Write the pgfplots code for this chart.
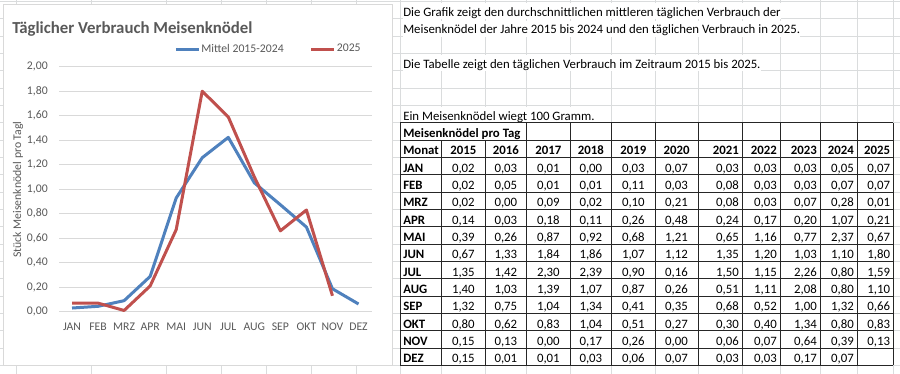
\documentclass[border=0pt]{standalone}
\usepackage{fontspec}
\setmainfont{Carlito}
\usepackage{pgfplots}
\pgfplotsset{compat=1.18}
\definecolor{cblue}{HTML}{4F81BD}
\definecolor{cred}{HTML}{C0504D}
\definecolor{txtgray}{HTML}{595959}
\definecolor{gridgray}{HTML}{D9D9D9}
\definecolor{sheetgrid}{HTML}{DADCDD}
\pgfkeys{/pgf/number format/.cd,fixed,fixed zerofill,precision=2,use comma,assume math mode=true}
\newcommand\bodyfont{\fontsize{9.6}{11.5}\selectfont}
\newcommand\axfont{\fontsize{8.8}{10.5}\selectfont}

\newcommand\trow[3]{%
 \node[anchor=base west, inner sep=0, font=\bodyfont\bfseries] at (403,{137.5+17.33*#1}) {#2};
 \foreach \v [count=\c] in {#3} {%
   \pgfmathsetmacro\xx{{463.35,505.85,548.35,590.85,633.35,676.5,739,777,817,854,890.3}[\c-1]}%
   \ifnum\c<7
     \node[anchor=base, inner sep=0, font=\bodyfont] at (\xx,{137.5+17.33*#1}) {\pgfmathprintnumber{\v}};
   \else
     \node[anchor=base east, inner sep=0, font=\bodyfont] at (\xx,{137.5+17.33*#1}) {\pgfmathprintnumber{\v}};
   \fi
 }%
}

\begin{document}
\begin{tikzpicture}
\begin{scope}[x=0.75pt,y=-0.75pt]
\path[use as bounding box, fill=white] (0,0) rectangle (900,374);
% spreadsheet grid
\foreach \gx in {16.7,91.7,166.7,221.7,266.7,311.7,356.7,400,441.7,485,526.7,570,611.7,655,698,742,780,820,857,893.3}
  \draw[sheetgrid, line width=0.75pt] (\gx,0) -- (\gx,374);
\foreach \k in {0,...,21}
  \draw[sheetgrid, line width=0.75pt] (0,{1.5+17.33*\k}) -- (900,{1.5+17.33*\k});
% chart area
\draw[gridgray, fill=white, line width=0.75pt] (3,5) rectangle (392,365);
\node[anchor=base west, inner sep=0, text=txtgray, font=\fontsize{12.6}{15}\selectfont\bfseries] at (12,33.3) {Täglicher Verbrauch Meisenknödel};
\node[rotate=90, text=txtgray, font=\axfont, inner sep=0] at (18,189.5) {Stück Meisenknödel pro Tagl};
\coordinate (plotSW) at (59,311.7);
% texts right
\tikzset{txt/.style={anchor=base west, fill=white, inner xsep=0pt, inner ysep=0pt, text height=9.7pt, text depth=2.4pt, font=\bodyfont}}
\node[txt] at (403,16.2) {Die Grafik zeigt den durchschnittlichen mittleren täglichen Verbrauch der};
\node[txt] at (403,33.5) {Meisenknödel der Jahre 2015 bis 2024 und den täglichen Verbrauch in 2025.};
\node[txt] at (403,68.2) {Die Tabelle zeigt den täglichen Verbrauch im Zeitraum 2015 bis 2025.};
\node[txt] at (403,120.2) {Ein Meisenknödel wiegt 100 Gramm.};
% table
\fill[white] (400,122.8) rectangle (893.3,365.4);
\foreach \k in {7,...,21}
  \draw[black!85, line width=0.75pt] (400,{1.5+17.33*\k}) -- (893.3,{1.5+17.33*\k});
\foreach \gx in {400,526.7,570,611.7,655,698,742,780,820,857,893.3}
  \draw[black!85, line width=0.75pt] (\gx,122.8) -- (\gx,365.4);
\foreach \gx in {441.7,485}
  \draw[black!85, line width=0.75pt] (\gx,140.1) -- (\gx,365.4);
\node[anchor=base west, inner sep=0, font=\bodyfont\bfseries] at (403,137.5) {Meisenknödel pro Tag};
\node[anchor=base west, inner sep=0, font=\bodyfont\bfseries] at (403,154.83) {Monat};
\foreach \yr [count=\c] in {2015,2016,2017,2018,2019,2020,2021,2022,2023,2024,2025} {%
   \pgfmathsetmacro\xx{{463.35,505.85,548.35,590.85,633.35,676.5,739,777,817,854,890.3}[\c-1]}%
   \ifnum\c<7
     \node[anchor=base, inner sep=0, font=\bodyfont\bfseries] at (\xx,154.83) {\yr};
   \else
     \node[anchor=base east, inner sep=0, font=\bodyfont\bfseries] at (\xx,154.83) {\yr};
   \fi
}
\trow{2}{JAN}{0.02,0.03,0.01,0.00,0.03,0.07,0.03,0.03,0.03,0.05,0.07}
\trow{3}{FEB}{0.02,0.05,0.01,0.01,0.11,0.03,0.08,0.03,0.03,0.07,0.07}
\trow{4}{MRZ}{0.02,0.00,0.09,0.02,0.10,0.21,0.08,0.03,0.07,0.28,0.01}
\trow{5}{APR}{0.14,0.03,0.18,0.11,0.26,0.48,0.24,0.17,0.20,1.07,0.21}
\trow{6}{MAI}{0.39,0.26,0.87,0.92,0.68,1.21,0.65,1.16,0.77,2.37,0.67}
\trow{7}{JUN}{0.67,1.33,1.84,1.86,1.07,1.12,1.35,1.20,1.03,1.10,1.80}
\trow{8}{JUL}{1.35,1.42,2.30,2.39,0.90,0.16,1.50,1.15,2.26,0.80,1.59}
\trow{9}{AUG}{1.40,1.03,1.39,1.07,0.87,0.26,0.51,1.11,2.08,0.80,1.10}
\trow{10}{SEP}{1.32,0.75,1.04,1.34,0.41,0.35,0.68,0.52,1.00,1.32,0.66}
\trow{11}{OKT}{0.80,0.62,0.83,1.04,0.51,0.27,0.30,0.40,1.34,0.80,0.83}
\trow{12}{NOV}{0.15,0.13,0.00,0.17,0.26,0.00,0.06,0.07,0.64,0.39,0.13}
\trow{13}{DEZ}{0.15,0.01,0.01,0.03,0.06,0.07,0.03,0.03,0.17,0.07}
\end{scope}

\begin{axis}[
  at={(plotSW)}, anchor=south west,
  scale only axis, width=234.4pt, height=183.75pt,
  xmin=-0.5, xmax=11.5, ymin=0, ymax=2,
  xtick={0,1,2,3,4,5,6,7,8,9,10,11},
  xticklabels={JAN,FEB,MRZ,APR,MAI,JUN,JUL,AUG,SEP,OKT,NOV,DEZ},
  ytick={0,0.2,0.4,0.6,0.8,1,1.2,1.4,1.6,1.8,2},
  yticklabels={{0,00},{0,20},{0,40},{0,60},{0,80},{1,00},{1,20},{1,40},{1,60},{1,80},{2,00}},
  ymajorgrids, grid style={gridgray, line width=0.75pt},
  axis line style={draw=none},
  major tick style={draw=none},
  tick label style={font=\axfont, text=txtgray, inner sep=0pt},
  yticklabel style={anchor=east, xshift=-8.25pt},
  xticklabel style={anchor=north, yshift=-8.25pt},
  legend columns=2,
  legend style={at={(axis description cs:0.368,1.0722)}, anchor=west, draw=none, fill=none,
    inner sep=0pt, font=\axfont, text=txtgray,
    nodes={inner sep=0.8pt},
    /tikz/every even column/.append style={column sep=18.75pt}},
  legend image code/.code={\draw[#1, line width=2.25pt] (0pt,0pt) -- (17.25pt,0pt);},
]
\addplot[cblue, line width=2.25pt, line join=round, mark=none] coordinates {
 (0,0.030) (1,0.044) (2,0.090) (3,0.288) (4,0.928) (5,1.257) (6,1.423) (7,1.052) (8,0.873) (9,0.691) (10,0.187) (11,0.063)};
\addlegendentry{Mittel 2015-2024}
\addplot[cred, line width=2.25pt, line join=round, mark=none] coordinates {
 (0,0.07) (1,0.07) (2,0.01) (3,0.21) (4,0.67) (5,1.80) (6,1.59) (7,1.10) (8,0.66) (9,0.83) (10,0.13)};
\addlegendentry{2025}
\end{axis}
\end{tikzpicture}
\end{document}
